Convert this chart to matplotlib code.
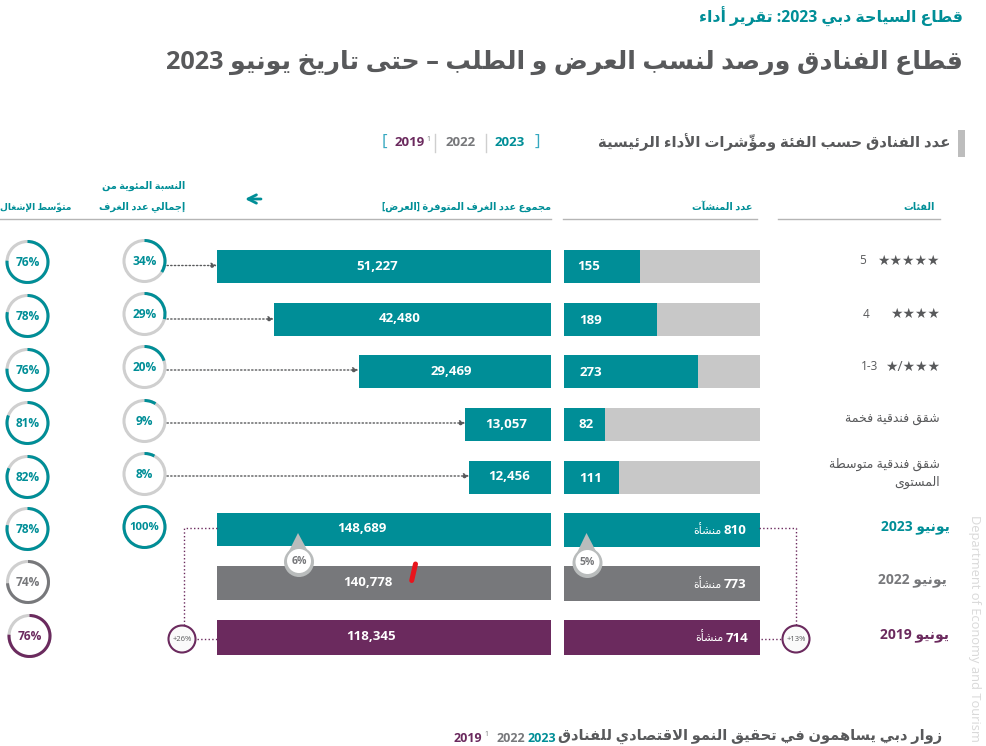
import re
import unicodedata
import matplotlib
matplotlib.use('Agg')
import matplotlib.pyplot as plt
from matplotlib.patches import Wedge, Circle, Polygon

plt.rcParams['font.family'] = ['Open Sans', 'DejaVu Sans']

# data
cat_rooms = [51227, 42480, 29469, 13057, 12456]
cat_estab = [155, 189, 273, 82, 111]
cat_share = [34, 29, 20, 9, 8]
cat_occ = [76, 78, 76, 81, 82]
total_years = ['2023', '2022', '2019']
total_rooms = [148689, 140778, 118345]
total_estab = [810, 773, 714]
total_occ = [78, 74, 76]
total_share = 100
rooms_growth = ['6%', '+26%']
estab_growth = ['5%', '+13%']

TEAL = '#008e97'
GREY = '#77787b'
PURPLE = '#6b2a5e'
TEXT = '#58595b'
TRACK = '#c8c8c8'
RING = '#cfcfcf'

# matplotlib does no arabic shaping, so map letters to presentation forms by hand
FORMS = {}
LIGS = {}
for cp in range(0xFE70, 0xFEFD):
    parts = unicodedata.decomposition(chr(cp)).split()
    if len(parts) == 2:
        FORMS.setdefault(chr(int(parts[1], 16)), {})[parts[0]] = chr(cp)
    elif len(parts) == 3 and parts[1] == '0644':
        LIGS.setdefault(chr(int(parts[2], 16)), {})[parts[0]] = chr(cp)
RIGHT_ONLY = set('اأإآدذرزوؤةى')
NO_JOIN = set('ء')


def joins_next(c):
    return c in FORMS and c not in RIGHT_ONLY and c not in NO_JOIN


def shape_run(s):
    # clusters of (letter, marks)
    clusters = []
    for c in s:
        if unicodedata.combining(c) and clusters:
            clusters[-1][1] += c
        else:
            clusters.append([c, ''])
    out = []
    i = 0
    while i < len(clusters):
        c, marks = clusters[i]
        prev_j = i > 0 and joins_next(clusters[i - 1][0])
        nxt = clusters[i + 1][0] if i + 1 < len(clusters) else ''
        if c == 'ل' and nxt in LIGS:
            form = '<final>' if prev_j else '<isolated>'
            out.append(LIGS[nxt][form] + marks)
            i += 2
            continue
        if c in FORMS:
            next_j = nxt in FORMS and nxt not in NO_JOIN
            if prev_j and next_j and joins_next(c):
                key = '<medial>'
            elif prev_j:
                key = '<final>'
            elif next_j and joins_next(c):
                key = '<initial>'
            else:
                key = '<isolated>'
            out.append(FORMS[c].get(key, FORMS[c]['<isolated>']) + marks)
        else:
            out.append(c + marks)
        i += 1
    # visual order, base before its mark
    vis = ''.join(reversed(out))
    return vis.translate(str.maketrans('[]()', '][)('))


def ar(s):
    runs = re.split(r'([0-9][0-9,.\-]*)', s)
    return ''.join(r if re.match(r'[0-9]', r) else shape_run(r) for r in reversed(runs))


W, H = 987, 746
fig = plt.figure(figsize=(W / 100, H / 100), dpi=100)


def px_axes(x0, x1, y0=0, y1=H):
    return fig.add_axes([x0 / W, 1 - y1 / H, (x1 - x0) / W, (y1 - y0) / H])


# bars, y in pixel rows, x on each panel's own value scale
ax_rooms = px_axes(217, 550.5)
ax_rooms.set_xlim(51227, 0)
ax_rooms.set_ylim(H, 0)
ax_estab = px_axes(564.5, 760)
ax_estab.set_xlim(0, 400)
ax_estab.set_ylim(H, 0)
for a in (ax_rooms, ax_estab):
    a.axis('off')

ov = fig.add_axes([0, 0, 1, 1])
ov.set_xlim(0, W)
ov.set_ylim(H, 0)
ov.axis('off')
ov.patch.set_alpha(0)

cat_y = [266.5, 319, 371.5, 424, 477]
total_y = [529.5, 583, 637]
total_col = [TEAL, GREY, PURPLE]
bar_h = 33

ax_rooms.barh(cat_y, cat_rooms, height=bar_h, color=TEAL)
ax_rooms.barh(total_y, total_rooms, height=[33, 34, 35], color=total_col)
ax_estab.barh(cat_y, [400] * 5, height=bar_h, color=TRACK)
ax_estab.barh(cat_y, cat_estab, height=bar_h, color=TEAL)
ax_estab.barh(total_y, total_estab, height=[34, 35, 35], color=total_col)


def ring(x, y, pct, col, size=8.6):
    ov.add_patch(Circle((x, y), 20.5, fill=False, ec=RING, lw=2.2))
    ov.add_patch(Wedge((x, y), 22, -90, -90 + 3.6 * pct, width=3, fc=col, ec='none'))
    ov.text(x, y + 0.5, f'{pct}%', color=col, fontsize=size, fontweight='bold',
            ha='center', va='center')


occ_y = [262, 316, 370, 423, 477]
share_y = [261, 314, 367, 421, 474]
for y, p in zip(occ_y, cat_occ):
    ring(27.5, y, p, TEAL)
for y, p in zip(share_y, cat_share):
    ring(144.5, y, p, TEAL)
ring(27.5, 529, total_occ[0], TEAL)
ring(28, 582, total_occ[1], GREY)
ring(29.5, 636, total_occ[2], PURPLE)
ring(144.5, 527, total_share, TEAL, size=8.2)

# dotted arrows from share rings to bars
arrow_y = [265.5, 319, 370, 423, 476]
for y, v in zip(arrow_y, cat_rooms):
    ov.annotate('', xy=(v, y), xycoords=ax_rooms.transData, xytext=(167, y),
                textcoords=ov.transData,
                arrowprops=dict(arrowstyle='-|>', ls=':', lw=1, color=TEXT,
                                shrinkA=0, shrinkB=0, mutation_scale=8))

# numbers on bars
room_lx = [377, 400, 451, 506, 509]
for x, y, v in zip(room_lx, cat_y, cat_rooms):
    ov.text(x, y, f'{v:,}', color='white', fontsize=9.5, fontweight='bold', ha='center', va='center')
total_lx = [362, 368, 371]
for x, y, v in zip(total_lx, [528, 583, 636], total_rooms):
    ov.text(x, y, f'{v:,}', color='white', fontsize=9.5, fontweight='bold', ha='center', va='center')
est_lx = [589, 591, 591, 586, 591]
for x, y, v in zip(est_lx, [267, 320, 372, 425, 478], cat_estab):
    ov.text(x, y, f'{v}', color='white', fontsize=9.5, fontweight='bold', ha='center', va='center')
for x, y, v in zip([735, 735, 737], [531, 585, 638], total_estab):
    ov.text(x, y, f'{v}', color='white', fontsize=9.5, fontweight='bold', ha='center', va='center')
    ov.text(x - 14, y, ar('منشأة'), color='white', fontsize=8, ha='right', va='center')


# growth drops
def drop(x, y, tip_y, label):
    ov.add_patch(Polygon([(x - 1, tip_y), (x - 13, y - 5), (x + 12, y - 5)], fc='#b9bcbc', ec='none', zorder=3))
    ov.add_patch(Circle((x, y), 15, fc='#b9bcbc', ec='none', zorder=3))
    ov.add_patch(Circle((x, y - 1), 12, fc='white', ec='none', zorder=4))
    ov.text(x, y - 0.5, label, color=GREY, fontsize=7.5, fontweight='bold', ha='center', va='center', zorder=5)


drop(299, 562, 533, rooms_growth[0])
drop(587.5, 563, 533, estab_growth[0])

ov.plot([415.5, 411.7], [564, 580.5], color='#e8141c', lw=3.6, solid_capstyle='round')

# growth connectors
ov.plot([217, 183.5, 183.5], [527.5, 527.5, 625], color=PURPLE, lw=1, ls=':')
ov.plot([197, 217], [639, 639], color=PURPLE, lw=1, ls=':')
ov.plot([759, 796, 796], [527.5, 527.5, 625], color=PURPLE, lw=1, ls=':')
ov.plot([761, 782], [639, 639], color=PURPLE, lw=1, ls=':')
for x, t in zip([182, 796], [rooms_growth[1], estab_growth[1]]):
    ov.add_patch(Circle((x, 639), 13.5, fc='#fafafa', ec=PURPLE, lw=1.5, zorder=4))
    ov.text(x, 639.5, t, color=TEXT, fontsize=5.5, ha='center', va='center', zorder=5)

# titles
ov.text(963, 17, ar('قطاع السياحة دبي 2023: تقرير أداء'), color=TEAL, fontsize=11.3,
        fontweight='bold', ha='right', va='center')
ov.text(963, 62, ar('قطاع الفنادق ورصد لنسب العرض و الطلب – حتى تاريخ يونيو 2023'), color=TEXT,
        fontsize=18.2, fontweight='bold', ha='right', va='center')
ov.text(950, 142, ar('عدد الفنادق حسب الفئة ومؤشّرات الأداء الرئيسية'), color=TEXT, fontsize=10.7,
        fontweight='bold', ha='right', va='center')
ov.fill_between([958, 965], 130, 157, color='#bdbdbd', lw=0)

# year legend at the top
for x, t, c in zip([510, 460.5, 410], total_years, total_col):
    ov.text(x, 143, t, color=c, fontsize=9.5, fontweight='bold', ha='center', va='center')
ov.text(428.5, 139.5, '1', color=GREY, fontsize=5, ha='center', va='center')
ov.text(384.5, 142, '[', color='#35a8c0', fontsize=12, ha='center', va='center')
ov.text(537, 142, ']', color='#35a8c0', fontsize=12, ha='center', va='center')
ov.plot([435, 435], [134, 152], color=RING, lw=1)
ov.plot([486, 486], [134, 152], color=RING, lw=1)

# column headers
hdr = dict(color=TEAL, fontsize=7, fontweight='bold', ha='right', va='center')
ov.text(935, 207, ar('الفئات'), **hdr)
ov.text(752, 207, ar('عدد المنشآت'), **hdr)
ov.text(551, 207, ar('مجموع عدد الغرف المتوفرة [العرض]'), **hdr)
ov.text(185, 186, ar('النسبة المئوية من'), **hdr)
ov.text(185, 207, ar('إجمالي عدد الغرف'), **hdr)
ov.text(71, 207, ar('متوسّط الإشغال'), color=TEAL, fontsize=6.6, fontweight='bold', ha='right', va='center')
ov.annotate('', xy=(245, 199), xytext=(261, 199),
            arrowprops=dict(arrowstyle='->', color=TEAL, lw=2, mutation_scale=15, shrinkA=0, shrinkB=0))
for x0, x1 in [(0, 551), (563, 757), (778, 940)]:
    ov.plot([x0, x1], [219, 219], color='#b5b5b5', lw=1)

# row labels
star = dict(color=TEXT, fontsize=10, ha='right', va='center')
ov.text(940, 261, '★★★★★', **star)
ov.text(863, 261, '5', color=TEXT, fontsize=8.5, ha='center', va='center')
ov.text(940, 314, '★★★★', **star)
ov.text(866, 314, '4', color=TEXT, fontsize=8.5, ha='center', va='center')
ov.text(940, 367, '★/★★★', **star)
ov.text(870, 367, '1-3', color=TEXT, fontsize=8.5, ha='center', va='center')
lab = dict(color=TEXT, fontsize=9, ha='right', va='center')
ov.text(940, 420, ar('شقق فندقية فخمة'), **lab)
ov.text(940, 464, ar('شقق فندقية متوسطة'), **lab)
ov.text(940, 482, ar('المستوى'), **lab)
for x, y, t, c in zip([950, 947, 949], [527, 580, 635], total_years, total_col):
    ov.text(x, y, ar('يونيو ' + t), color=c, fontsize=10, fontweight='bold', ha='right', va='center')

# footer heading
ov.text(942, 736, ar('زوار دبي يساهمون في تحقيق النمو الاقتصادي للفنادق'), color=TEXT, fontsize=10.5,
        fontweight='bold', ha='right', va='center')
for x, t, c in zip([542, 510.5, 467.5], total_years, total_col):
    ov.text(x, 738, t, color=c, fontsize=9, fontweight='bold', ha='center', va='center')
ov.text(486, 735, '1', color=GREY, fontsize=5, ha='center', va='center')

ov.text(974, 515, 'Department of Economy and Tourism', color='#d9d9d9', fontsize=9.3,
        rotation=270, ha='center', va='top', clip_on=True)

fig.savefig('out.png', dpi=100)
